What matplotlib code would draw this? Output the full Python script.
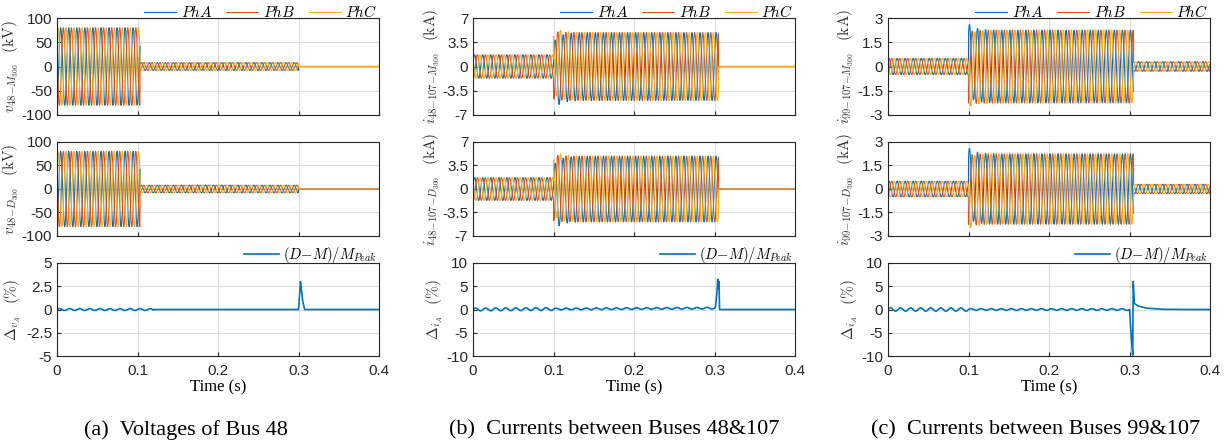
import numpy as np
import matplotlib
matplotlib.use("Agg")
import matplotlib.pyplot as plt

plt.rcParams['font.family'] = ['Liberation Sans', 'DejaVu Sans']
plt.rcParams['mathtext.fontset'] = 'cm'

# colours (MATLAB default order)
c_a, c_b, c_c = '#0072BD', '#D95319', '#EDB120'

# time base
t = np.linspace(0, 0.4, 8001)
freq = 100.0          # apparent waveform frequency (Hz)
wiggle_freq = 80.0    # ripple seen in the error traces

# ---- waveform data per column: segment edges (s) and peak amplitudes ----
v48_edges = [0.0, 0.103, 0.300, 0.4]
v48_amps = [80.0, 8.0, 0.0]
v48_phase = -1.3
v48_dc = [0.0, 0.0, 0.0]

i48_edges = [0.0, 0.100, 0.305, 0.4]
i48_amps = [1.7, 4.9, 0.0]
i48_phase = 0.3
i48_dc = [-1.4, 0.2, 1.0]

i99_edges = [0.0, 0.100, 0.305, 0.4]
i99_amps = [0.5, 2.25, 0.3]
i99_phase = 0.8
i99_dc = [0.4, -0.1, -0.3]

# ---- error traces: ripple amplitude per segment + event keypoints ----
d1_edges = [0.0, 0.12, 0.4]
d1_ripple = [0.1, 0.0]
d1_evt_t = [0.0, 0.3000, 0.3025, 0.3050, 0.3075, 0.4]
d1_evt_v = [0.0, 0.0, 3.0, 1.0, 0.0, 0.0]

d2_edges = [0.0, 0.10, 0.302, 0.4]
d2_ripple = [0.3, 0.18, 0.0]
d2_evt_t = [0.0, 0.3010, 0.3030, 0.3040, 0.3048, 0.3056, 0.3062, 0.4]
d2_evt_v = [0.0, 0.3, 3.5, 6.5, 4.5, 6.0, 0.0, 0.0]

d3_edges = [0.0, 0.10, 0.300, 0.4]
d3_ripple = [0.35, 0.18, 0.0]
d3_evt_t = [0.0, 0.3000, 0.3020, 0.3040, 0.3046, 0.3060, 0.3100, 0.3200, 0.3400, 0.3600, 0.4]
d3_evt_v = [0.0, 0.0, -5.5, -9.8, 6.0, 1.3, 0.8, 0.3, 0.05, 0.0, 0.0]

ylabels_top = [r'v_{48{-}M_{300}}', r'i_{48{-}107{-}M_{300}}', r'i_{99{-}107{-}M_{300}}']
ylabels_mid = [r'v_{48{-}D_{300}}', r'i_{48{-}107{-}D_{300}}', r'i_{99{-}107{-}D_{300}}']
ylabels_bot = [r'\Delta_{v_A}', r'\Delta_{i_A}', r'\Delta_{i_A}']
units = ['kV', 'kA', 'kA']
yticks_wave = [[-100, -50, 0, 50, 100], [-7, -3.5, 0, 3.5, 7], [-3, -1.5, 0, 1.5, 3]]
yticks_err = [[-5, -2.5, 0, 2.5, 5], [-10, -5, 0, 5, 10], [-10, -5, 0, 5, 10]]
captions = ['(a)  Voltages of Bus 48', '(b)  Currents between Buses 48&107',
            '(c)  Currents between Buses 99&107']
caption_x = [186, 614, 1036]
ylabel_x_wave = [-0.112, -0.095, -0.1]
ylabel_x_err = [-0.106, -0.087, -0.087]


def segment_amp(edges, amps):
    a = np.zeros_like(t)
    for k in range(len(amps)):
        m = (t >= edges[k]) & (t < edges[k + 1])
        a[m] = amps[k]
    return a


def three_phase(edges, amps, phase, dc):
    amp = segment_amp(edges, amps)
    out = []
    t0 = edges[1]
    fault = (t >= t0) & (t < edges[2])
    for k in range(3):
        w = amp * np.sin(2 * np.pi * freq * t + phase - k * 2 * np.pi / 3)
        w = w + np.where(fault, dc[k] * np.exp(-(t - t0) / 0.008), 0.0)
        out.append(w)
    return out


def error_trace(edges, ripple, evt_t, evt_v):
    r = segment_amp(edges, ripple) * np.sin(2 * np.pi * wiggle_freq * t)
    return r + np.interp(t, evt_t, evt_v)


waves = [three_phase(v48_edges, v48_amps, v48_phase, v48_dc),
         three_phase(i48_edges, i48_amps, i48_phase, i48_dc),
         three_phase(i99_edges, i99_amps, i99_phase, i99_dc)]
errors = [error_trace(d1_edges, d1_ripple, d1_evt_t, d1_evt_v),
          error_trace(d2_edges, d2_ripple, d2_evt_t, d2_evt_v),
          error_trace(d3_edges, d3_ripple, d3_evt_t, d3_evt_v)]

fig = plt.figure(figsize=(12.25, 4.43), dpi=100)

W, H = 1225.0, 443.0
col_left = [57, 473, 888]
col_w = 322
rows = [(18, 115), (142, 236), (263, 356)]


def make_ax(ci, ri):
    top, bot = rows[ri]
    return fig.add_axes([col_left[ci] / W, 1 - bot / H, col_w / W, (bot - top) / H])


def style(ax, yt):
    ax.set_xlim(0, 0.4)
    ax.set_ylim(yt[0], yt[-1])
    ax.set_yticks(yt)
    ax.set_yticklabels([f'{v:g}' for v in yt])
    ax.set_xticks([0, 0.1, 0.2, 0.3, 0.4])
    ax.grid(True, color='#dcdcdc', linewidth=0.8)
    ax.set_axisbelow(True)
    ax.tick_params(direction='in', length=3, labelsize=11, colors='#262626')
    for s in ax.spines.values():
        s.set_color('#262626')
        s.set_linewidth(0.8)


def ylab(ax, sym, unit, xpos):
    ax.set_ylabel('$' + sym + r'\;\;\;(\mathrm{' + unit + '})$', fontsize=11,
                  color='#333333')
    ax.yaxis.set_label_coords(xpos, 0.5)


for ci in range(3):
    yt = yticks_wave[ci]
    for ri, lab in enumerate([ylabels_top[ci], ylabels_mid[ci]]):
        ax = make_ax(ci, ri)
        lines = []
        for w, c in zip(waves[ci], [c_a, c_b, c_c]):
            l, = ax.plot(t, w, color=c, linewidth=0.8)
            lines.append(l)
        style(ax, yt)
        ax.set_xticklabels([])
        ylab(ax, lab, units[ci], ylabel_x_wave[ci])
        if ri == 0:
            ax.legend(lines, ['$PhA$', '$PhB$', '$PhC$'], loc='lower right',
                      bbox_to_anchor=(1.0, 0.96), ncol=3, frameon=False, fontsize=11,
                      handlelength=2.1, columnspacing=0.9, handletextpad=0.3,
                      borderaxespad=0, borderpad=0.1)

    ax = make_ax(ci, 2)
    l, = ax.plot(t, errors[ci], color=c_a, linewidth=1.2)
    style(ax, yticks_err[ci])
    ax.set_xticklabels(['0', '0.1', '0.2', '0.3', '0.4'])
    ax.tick_params(axis='x', pad=6)
    ylab(ax, ylabels_bot[ci], '\\%', ylabel_x_err[ci])
    ax.set_xlabel('Time (s)', fontsize=12, family='Liberation Serif', labelpad=1)
    ax.legend([l], [r'$(D{-}M)/M_{Peak}$'], loc='lower right', bbox_to_anchor=(1.0, 0.96),
              frameon=False, fontsize=10.5, handlelength=2.4, handletextpad=0.3,
              borderaxespad=0, borderpad=0.1)

    fig.text(caption_x[ci] / W, 1 - 430 / H, captions[ci],
             ha='center', va='center', fontsize=16, family='Liberation Serif')

fig.savefig('out.png', dpi=100)
